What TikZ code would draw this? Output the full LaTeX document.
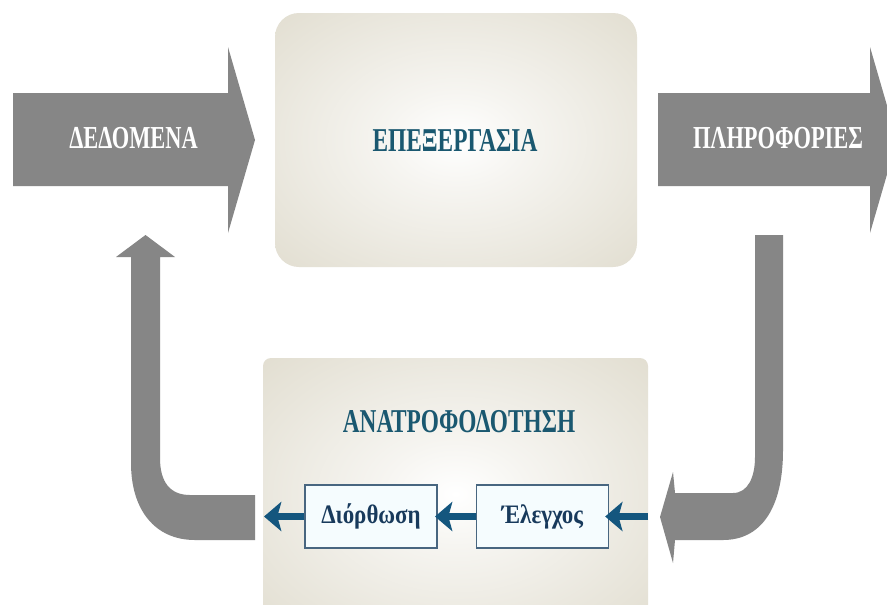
\documentclass[tikz,border=0pt]{standalone}
\usepackage{fontspec}
\usetikzlibrary{arrows.meta}
\newfontfamily\condfont[FakeStretch=0.70]{Liberation Serif}
\newfontfamily\boxfont[FakeStretch=0.86]{Liberation Serif}

\definecolor{arrowgray}{RGB}{134,134,134}
\definecolor{boxbeige}{RGB}{224,220,206}
\definecolor{titleteal}{RGB}{26,88,112}
\definecolor{fbblue}{RGB}{20,86,126}
\definecolor{smallborder}{RGB}{72,102,128}
\definecolor{smalltext}{RGB}{24,58,92}

\pgfdeclareradialshading{boxglow}{\pgfpoint{0bp}{0bp}}{color(0bp)=(white); color(10bp)=(white!70!boxbeige); color(38bp)=(boxbeige); color(50bp)=(boxbeige)}

\tikzset{every picture/.style={line width=0.75pt},
  bigarrow/.style={fill=arrowgray, draw=none},
  arrowtext/.style={anchor=base, inner sep=0.75pt, text=white, font=\condfont\bfseries\fontsize{24}{28}\selectfont},
  titletext/.style={anchor=base, inner sep=0.75pt, text=titleteal, font=\condfont\bfseries\fontsize{25}{29}\selectfont},
  stepbox/.style={draw=smallborder, fill=white!96!cyan, line width=1pt, minimum width=99pt, minimum height=47.25pt, inner sep=0pt, text=smalltext, font=\boxfont\bfseries\fontsize{20}{23}\selectfont},
  fbarrow/.style={draw=fbblue, line width=5pt, -{Stealth[length=13pt,width=22pt,inset=3pt]}}
}

\begin{document}
\begin{tikzpicture}[x=0.75pt,y=0.75pt,yscale=-1,xscale=1]
\useasboundingbox (0,0) rectangle (887,604);
\clip (0,0) rectangle (887,604);
\fill[white] (0,0) rectangle (887,604);

%Shape: Rounded Rect [id:processbox]
\shade[shading=boxglow, rounded corners=18pt] (275,13) rectangle (637,267);
%Shape: Rect [id:feedbackbox]
\shade[shading=boxglow, rounded corners=6pt] (263,358) rectangle (648,630);

%Shape: Right Arrow [id:dataarrow]
\fill[bigarrow] (13,93) -- (228,93) -- (228,47) -- (255,140) -- (228,233) -- (228,186) -- (13,186) -- cycle;
%Shape: Right Arrow [id:infoarrow]
\fill[bigarrow] (658,93) -- (870,93) -- (870,47) -- (897,140) -- (870,233) -- (870,186) -- (658,186) -- cycle;
%Shape: Bent Arrow [id:returnarrow]
\fill[bigarrow] (755,235) -- (783,235) -- (783,450) .. controls (783,510) and (760,540) .. (723,540) -- (675,540) -- (673,563) -- (660,517) -- (673,472) -- (675,493) -- (733,493) .. controls (748,493) and (755,477) .. (755,457) -- cycle;
%Shape: Bent Up Arrow [id:backarrow]
\fill[bigarrow] (131,257) -- (116,257) -- (145.5,235) -- (175,257) -- (160,257) -- (160,458) .. controls (160,482) and (170,495) .. (190,495) -- (255,495) -- (255,540) -- (195,540) .. controls (155,540) and (131,510) .. (131,463) -- cycle;

% Text Node
\node[arrowtext] (data) at (133.5,148) {ΔΕΔΟΜΕΝΑ};
% Text Node
\node[arrowtext] (info) at (778,148) {ΠΛΗΡΟΦΟΡΙΕΣ};
% Text Node
\node[titletext] (process) at (455,151) {ΕΠΕΞΕΡΓΑΣΙΑ};
% Text Node
\node[titletext] (feedback) at (459,432) {ΑΝΑΤΡΟΦΟΔΟΤΗΣΗ};

% Step boxes
\node[stepbox] (diorth) at (371,516.5) {Διόρθωση};
\node[stepbox] (elegchos) at (542.5,516.5) {Έλεγχος};
\coordinate (fbin) at (648,516.5);
\coordinate (fbout) at (264,516.5);

%Straight Lines
\draw[fbarrow] (fbin) -- ([xshift=-3pt]elegchos.east);
\draw[fbarrow] (elegchos.west) -- ([xshift=-2pt]diorth.east);
\draw[fbarrow] (diorth.west) -- (fbout);

\end{tikzpicture}
\end{document}
